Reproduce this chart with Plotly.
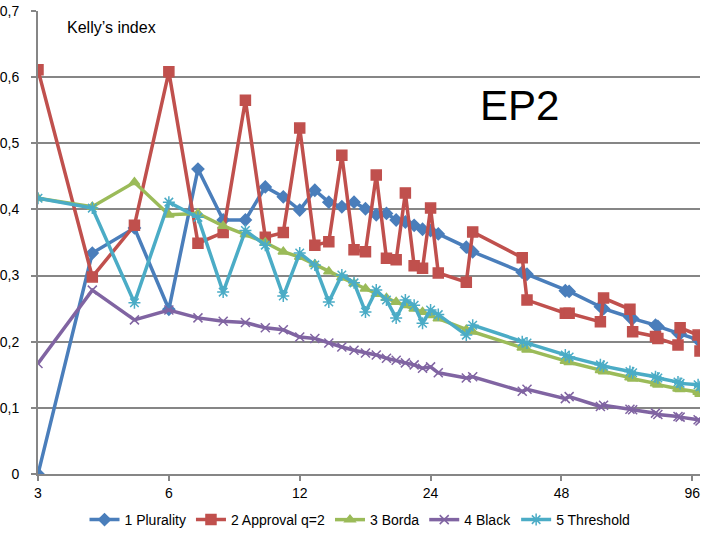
import plotly.graph_objects as go

# ---- data ----
n_values = [3, 4, 5, 6, 7, 8, 9, 10, 11, 12, 13, 14, 15, 16, 17, 18, 19, 20, 21, 22, 23, 24, 25,
            29, 30, 39, 40, 49, 50, 59, 60, 69, 70, 79, 80, 89, 90, 99, 100]

plurality = [0.0, 0.334, 0.372, 0.249, 0.461, 0.384, 0.384, 0.434, 0.419, 0.399, 0.429, 0.411, 0.404,
             0.411, 0.401, 0.392, 0.394, 0.384, 0.381, 0.376, 0.370, 0.368, 0.363,
             0.343, 0.336, 0.305, 0.302, 0.277, 0.276, 0.253, 0.250, 0.237, 0.235,
             0.225, 0.223, 0.213, 0.212, 0.203, 0.200]

approval = [0.611, 0.298, 0.376, 0.608, 0.349, 0.365, 0.565, 0.358, 0.365, 0.523, 0.346, 0.351, 0.482,
            0.339, 0.336, 0.452, 0.326, 0.324, 0.425, 0.315, 0.311, 0.402, 0.304,
            0.290, 0.366, 0.327, 0.263, 0.243, 0.243, 0.230, 0.266, 0.249, 0.215,
            0.208, 0.205, 0.195, 0.221, 0.210, 0.186]

borda = [0.417, 0.404, 0.441, 0.392, 0.394, 0.375, 0.362, 0.350, 0.336, 0.328, 0.317, 0.306, 0.297,
         0.288, 0.280, 0.272, 0.266, 0.260, 0.255, 0.250, 0.245, 0.240, 0.235,
         0.218, 0.215, 0.191, 0.188, 0.171, 0.169, 0.157, 0.155, 0.146, 0.144,
         0.137, 0.135, 0.129, 0.128, 0.124, 0.121]

black = [0.167, 0.278, 0.233, 0.248, 0.236, 0.231, 0.229, 0.221, 0.218, 0.207, 0.205, 0.198, 0.192,
         0.187, 0.183, 0.180, 0.175, 0.172, 0.168, 0.165, 0.160, 0.162, 0.153,
         0.145, 0.147, 0.125, 0.128, 0.114, 0.117, 0.102, 0.104, 0.098, 0.097,
         0.092, 0.090, 0.087, 0.086, 0.082, 0.080]

threshold = [0.417, 0.402, 0.259, 0.411, 0.388, 0.275, 0.368, 0.346, 0.269, 0.334, 0.316, 0.260, 0.301,
             0.289, 0.245, 0.278, 0.263, 0.236, 0.263, 0.255, 0.228, 0.248, 0.241,
             0.210, 0.225, 0.200, 0.198, 0.180, 0.177, 0.165, 0.163, 0.155, 0.153,
             0.147, 0.145, 0.139, 0.137, 0.135, 0.132]

series_names = ["1 Plurality", "2 Approval q=2", "3 Borda", "4 Black", "5 Threshold"]
x_tick_values = [3, 6, 12, 24, 48, 96]
x_tick_labels = ["3", "6", "12", "24", "48", "96"]
y_tick_values = [0, 0.1, 0.2, 0.3, 0.4, 0.5, 0.6, 0.7]
y_tick_labels = ["0", "0,1", "0,2", "0,3", "0,4", "0,5", "0,6", "0,7"]

# ---- styles ----
colors = ["#4A7EBB", "#C0504D", "#9BBB59", "#8064A2", "#4BACC6"]
symbols = ["diamond", "square", "triangle-up", "x-thin-open", "asterisk-open"]
msizes = [9, 10, 9, 9, 10]

fig = go.Figure()
for name, vals, c, s, ms in zip(series_names, [plurality, approval, borda, black, threshold],
                                colors, symbols, msizes):
    fig.add_trace(go.Scatter(
        x=n_values, y=vals, name=name, mode="lines+markers",
        line=dict(color=c, width=3.5),
        marker=dict(symbol=s, size=ms, color=c, line=dict(color=c, width=1.5)),
    ))

fig.update_layout(
    width=720, height=540,
    margin=dict(l=38, r=20, t=11, b=66, autoexpand=False),
    paper_bgcolor="white", plot_bgcolor="white",
    font=dict(family="Liberation Sans", size=14, color="#000000"),
    showlegend=True,
    legend=dict(orientation="h", x=0.5, xanchor="center", xref="container",
                y=0.037, yanchor="middle", yref="container",
                font=dict(size=14), itemwidth=30, tracegroupgap=0),
    xaxis=dict(type="log", range=[0.47712, 2.0], tickvals=x_tick_values, ticktext=x_tick_labels,
               showgrid=False, showline=True, linecolor="#868686", linewidth=2,
               ticks="outside", ticklen=5, tickcolor="#868686", tickwidth=2, zeroline=False,
               tickfont=dict(size=14), automargin=False, ticklabeloverflow="allow"),
    yaxis=dict(range=[0, 0.7], tickvals=y_tick_values, ticktext=y_tick_labels,
               showgrid=True, gridcolor="#868686", gridwidth=2,
               showline=True, linecolor="#868686", linewidth=2,
               ticks="outside", ticklen=5, tickcolor="#868686", tickwidth=2, zeroline=False,
               tickfont=dict(size=14), ticklabelstandoff=9, automargin=False,
               ticklabeloverflow="allow"),
    annotations=[
        dict(text="Kelly’s index", x=0.041, y=0.965, xref="paper", yref="paper",
             xanchor="left", yanchor="middle", showarrow=False, font=dict(size=16)),
        dict(text="EP2", x=0.728, y=0.795, xref="paper", yref="paper",
             xanchor="center", yanchor="middle", showarrow=False, font=dict(size=42)),
    ],
)

fig.write_html("out.html", config={"displayModeBar": False},
               post_script="document.body.style.margin='0';")
